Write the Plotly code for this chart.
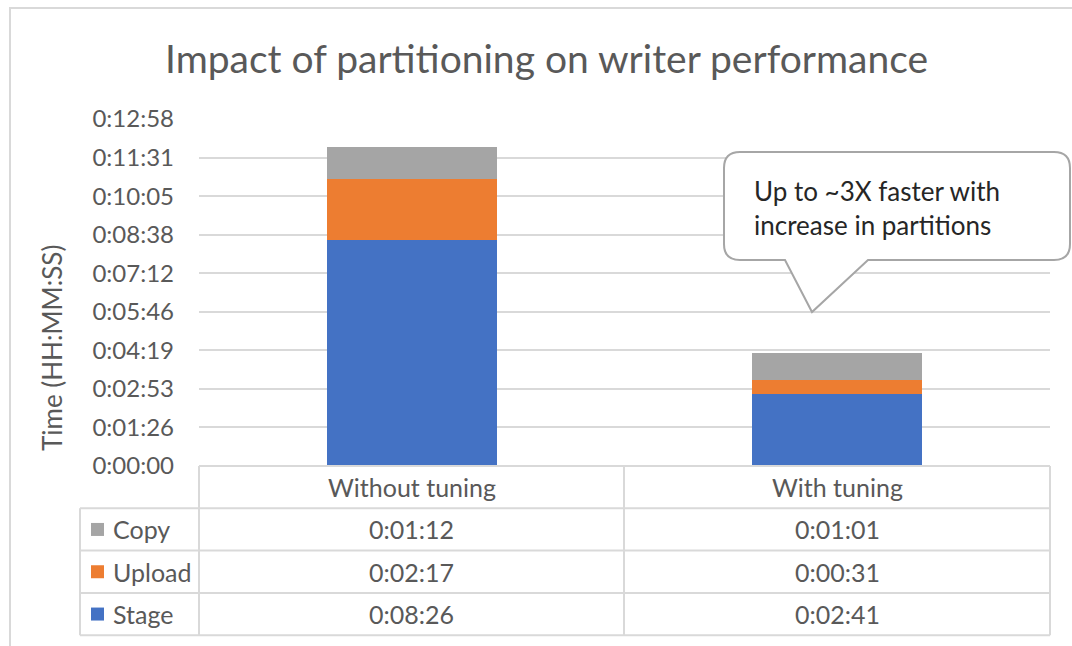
import plotly.graph_objects as go

# ---- data (seconds) ----
categories = ["Without tuning", "With tuning"]
series_names = ["Stage", "Upload", "Copy"]
stage = [506, 161]
upload = [137, 31]
copy = [72, 61]
tick_labels = ["0:00:00", "0:01:26", "0:02:53", "0:04:19", "0:05:46",
               "0:07:12", "0:08:38", "0:10:05", "0:11:31", "0:12:58"]
tick_step = 86.4
title = "Impact of partitioning on writer performance"
y_title = "Time (HH:MM:SS)"
callout_text = "Up to ~3X faster with<br>increase in partitions"

colors = {"Stage": "#4472C4", "Upload": "#ED7D31", "Copy": "#A5A5A5"}
values = {"Stage": stage, "Upload": upload, "Copy": copy}

FONT = "Lato"
TXT = "#595959"
GRID = "#d9d9d9"

W, H = 1072, 646
L, R, T, B = 199, 1050, 119, 466


def X(px):
    return (px - L) / (R - L)


def Y(py):
    return (B - py) / (B - T)


def fmt(s):
    return f"{s // 3600}:{(s % 3600) // 60:02d}:{s % 60:02d}"


fig = go.Figure()
for name in series_names:
    fig.add_trace(go.Bar(x=categories, y=values[name], name=name,
                         marker=dict(color=colors[name], line=dict(width=0)),
                         width=0.4, showlegend=False))

tickvals = [i * tick_step for i in range(len(tick_labels))]

shapes = []
annotations = []

# outer frame
shapes.append(dict(type="rect", xref="paper", yref="paper",
                   x0=X(10), x1=X(1095), y0=Y(8), y1=Y(670),
                   line=dict(color=GRID, width=2), fillcolor="rgba(0,0,0,0)", layer="below"))

# data table geometry
row_h = 42.3
top = 466
col_x = [L, 624, R]
leg_left = 80
rows_y = [top + i * row_h for i in range(5)]

line_style = dict(color=GRID, width=2)
shapes.append(dict(type="line", xref="paper", yref="paper", x0=X(L), x1=X(R),
                   y0=Y(rows_y[0]), y1=Y(rows_y[0]), line=line_style))
for yy in rows_y[1:]:
    shapes.append(dict(type="line", xref="paper", yref="paper", x0=X(leg_left), x1=X(R),
                       y0=Y(yy), y1=Y(yy), line=line_style))
for cx in col_x:
    shapes.append(dict(type="line", xref="paper", yref="paper", x0=X(cx), x1=X(cx),
                       y0=Y(rows_y[0]), y1=Y(rows_y[-1]), line=line_style))
shapes.append(dict(type="line", xref="paper", yref="paper", x0=X(leg_left), x1=X(leg_left),
                   y0=Y(rows_y[1]), y1=Y(rows_y[-1]), line=line_style))

TS = 25
for i, c in enumerate(categories):
    cxm = (col_x[i] + col_x[i + 1]) / 2
    annotations.append(dict(x=X(cxm), y=Y((rows_y[0] + rows_y[1]) / 2), xref="paper", yref="paper",
                            text=c, showarrow=False, font=dict(family=FONT, size=TS, color=TXT),
                            xanchor="center", yanchor="middle"))

for r, name in enumerate(reversed(series_names)):
    ymid = (rows_y[r + 1] + rows_y[r + 2]) / 2
    shapes.append(dict(type="rect", xref="paper", yref="paper",
                       x0=X(91), x1=X(104), y0=Y(ymid - 6.5), y1=Y(ymid + 6.5),
                       fillcolor=colors[name], line=dict(width=0)))
    annotations.append(dict(x=X(111), y=Y(ymid), xref="paper", yref="paper", text=name,
                            showarrow=False, font=dict(family=FONT, size=TS, color=TXT),
                            xanchor="left", yanchor="middle"))
    for i in range(len(categories)):
        cxm = (col_x[i] + col_x[i + 1]) / 2
        annotations.append(dict(x=X(cxm), y=Y(ymid), xref="paper", yref="paper",
                                text=fmt(values[name][i]), showarrow=False,
                                font=dict(family=FONT, size=TS, color=TXT),
                                xanchor="center", yanchor="middle"))


def P(px, py):
    return f"{X(px):.5f},{Y(py):.5f}"


x0c, x1c, y0c, y1c, rr = 724, 1070, 152, 260, 16
path = (f"M {P(x0c + rr, y0c)} L {P(x1c - rr, y0c)} Q {P(x1c, y0c)} {P(x1c, y0c + rr)} "
        f"L {P(x1c, y1c - rr)} Q {P(x1c, y1c)} {P(x1c - rr, y1c)} "
        f"L {P(868, y1c)} L {P(812, 312)} L {P(785, y1c)} "
        f"L {P(x0c + rr, y1c)} Q {P(x0c, y1c)} {P(x0c, y1c - rr)} "
        f"L {P(x0c, y0c + rr)} Q {P(x0c, y0c)} {P(x0c + rr, y0c)} Z")
shapes.append(dict(type="path", xref="paper", yref="paper", path=path,
                   fillcolor="white", line=dict(color="#a6a6a6", width=2), layer="above"))
annotations.append(dict(x=X(752), y=Y(208), xref="paper", yref="paper", text=callout_text,
                        showarrow=False, align="left", xanchor="left", yanchor="middle",
                        font=dict(family=FONT, size=26, color="#262626")))

annotations.append(dict(x=X(52), y=Y(348), xref="paper", yref="paper", text=y_title,
                        textangle=-90, showarrow=False, xanchor="center", yanchor="middle",
                        font=dict(family=FONT, size=26, color=TXT)))

annotations.append(dict(x=X(546), y=Y(58), xref="paper", yref="paper", text=title,
                        showarrow=False, xanchor="center", yanchor="middle",
                        font=dict(family=FONT, size=39, color=TXT)))

fig.update_layout(
    width=W, height=H, barmode="stack",
    margin=dict(l=L, r=W - R, t=T, b=H - B, pad=0),
    paper_bgcolor="white", plot_bgcolor="white",
    bargap=0.6,
    xaxis=dict(showticklabels=False, showgrid=False, zeroline=False, showline=False,
               range=[-0.5, 1.5]),
    yaxis=dict(range=[0, tickvals[-1]], tickvals=tickvals, ticktext=tick_labels,
               showgrid=True, gridcolor=GRID, gridwidth=2, zeroline=False, showline=False,
               tickfont=dict(family=FONT, size=24, color=TXT), ticklabelstandoff=24),
    shapes=shapes, annotations=annotations,
    font=dict(family=FONT),
)

fig.write_html("out.html", config={"displayModeBar": False},
               post_script="document.body.style.margin='0';document.body.style.overflow='hidden';")
